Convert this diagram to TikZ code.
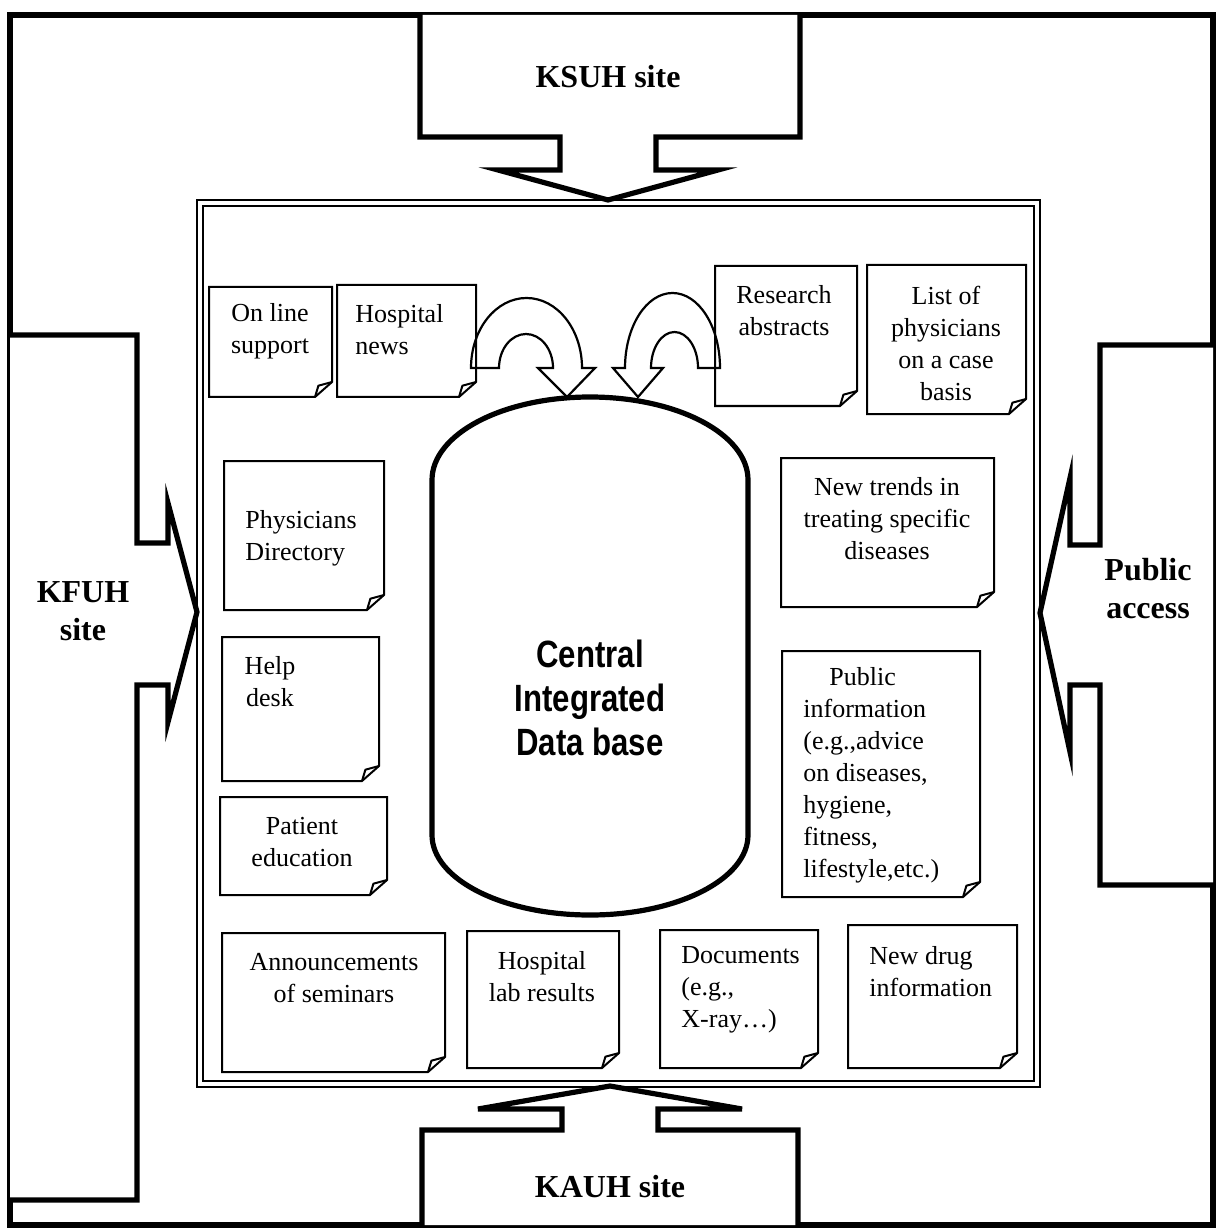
\documentclass[tikz,border=0pt]{standalone}
\usepackage{fontspec}
\setmainfont{Liberation Serif}
\newfontfamily\dbfont[FakeStretch=0.82]{Liberation Sans}

% outline of a sheet with a curled lower right corner
\newcommand\paperbox[4]{%
  \draw[sheet] (#1,#2) -- (#3,#2) -- (#3,#4-15) -- (#3-17,#4) -- (#1,#4) -- cycle;
  \draw[sheet] (#3-17,#4) -- (#3-13.6,#4-11.3) -- (#3,#4-15);
}

\begin{document}
\begin{tikzpicture}[x=0.5pt,y=-0.5pt,
  heavy/.style={line width=2.6pt, line join=miter, line cap=rect},
  panel/.style={line width=0.9pt},
  sheet/.style={line width=1pt, line join=miter},
  turn/.style={line width=1.1pt, line join=miter, fill=white},
  db/.style={line width=2.6pt},
  notetext/.style={font=\fontsize{13}{16}\selectfont, align=center, inner sep=0pt},
  sitetext/.style={font=\fontsize{16}{19}\selectfont\bfseries, align=center, inner sep=0pt},
  dbtext/.style={font=\dbfont\bfseries\fontsize{19}{22}\selectfont, align=center, inner sep=0pt}]
\useasboundingbox (0,0) rectangle (1223,1229);

% outer frame
\draw[heavy] (10,15) rectangle (1213,1225);

% double-lined panel in the middle
\draw[panel] (197,200) rectangle (1040,1087);
\draw[panel] (203,206) rectangle (1034,1081);

% callout from the top
\draw[heavy, fill=white] (420,15) -- (420,137) -- (560,137) -- (560,170) -- (498,170)
  -- (608,200) -- (718,170) -- (656,170) -- (656,137) -- (800,137) -- (800,15);
% callout from the bottom
\draw[heavy, fill=white] (422,1225) -- (422,1130) -- (562,1130) -- (562,1109) -- (478,1109)
  -- (610,1086) -- (742,1109) -- (658,1109) -- (658,1130) -- (798,1130) -- (798,1225);
% callout from the left
\draw[heavy, fill=white] (10,335) -- (137,335) -- (137,543) -- (168,543) -- (168,503)
  -- (197,612) -- (168,722) -- (168,685) -- (137,685) -- (137,1200) -- (10,1200);
% callout from the right
\draw[heavy, fill=white] (1213,345) -- (1100,345) -- (1100,545) -- (1070,545) -- (1070,478)
  -- (1040,613) -- (1070,752) -- (1070,685) -- (1100,685) -- (1100,885) -- (1213,885);

\node[sitetext] (ksuh) at (608,77) {KSUH site};
\node[sitetext] (kauh) at (610,1187) {KAUH site};
\node[sitetext] (kfuh) at (83,611) {KFUH\\site};
\node[sitetext] (pub) at (1148,589) {Public\\access};

% database cylinder: domed top, straight sides, rounded bottom
\draw[db] (432,835) -- (432,480)
  arc[start angle=180, end angle=360, x radius=158, y radius=83]
  -- (748,835)
  arc[start angle=0, end angle=180, x radius=158, y radius=80];
\node[dbtext] (dbase) at (590,698) {Central\\Integrated\\Data base};

% U-turn arrows into the database
\draw[turn] (471,368) arc[start angle=180, end angle=360, x radius=55.5, y radius=70]
  -- (595,368) -- (567,397) -- (538,368) -- (553,368)
  arc[start angle=360, end angle=180, x radius=27, y radius=34] -- cycle;
\draw[turn] (625,368) arc[start angle=180, end angle=360, x radius=47.5, y radius=75]
  -- (698,368) arc[start angle=360, end angle=180, x radius=23.5, y radius=36]
  -- (663,368) -- (638,397) -- (613,368) -- cycle;

% information sheets
\paperbox{209}{287}{332}{397}
\node[notetext] (online) at (270,331) {On line\\support};
\paperbox{337}{285}{476}{397}
\node[notetext, anchor=west, align=left] (news) at (355,330) {Hospital\\news};
\paperbox{715}{266}{857}{406}
\node[notetext] (research) at (784,311) {Research\\abstracts};
\paperbox{867}{265}{1026}{414}
\node[notetext] (physlist) at (946,343) {List of\\physicians\\on a case\\basis};
\paperbox{224}{461}{384}{610}
\node[notetext, anchor=west, align=left] (directory) at (245,538) {Physicians\\Directory};
\paperbox{781}{458}{994}{607}
\node[notetext] (trends) at (887,519) {New trends in\\treating specific\\diseases};
\paperbox{222}{637}{379}{781}
\node[notetext] (help) at (270,682) {Help\\desk};
\paperbox{782}{651}{980}{897}
\node[notetext, anchor=west, align=left] (publicinfo) at (803,775)
  {\hspace*{13pt}Public\\information\\(e.g.,advice\\on diseases,\\hygiene,\\fitness,\\lifestyle,etc.)};
\paperbox{220}{797}{387}{895}
\node[notetext] (patient) at (302,842) {Patient\\education};
\paperbox{222}{933}{445}{1072}
\node[notetext] (seminars) at (334,978) {Announcements\\of seminars};
\paperbox{467}{931}{619}{1068}
\node[notetext] (lab) at (542,977) {Hospital\\lab results};
\paperbox{660}{930}{818}{1068}
\node[notetext, anchor=west, align=left] (docs) at (681,990) {Documents\\(e.g.,\\X-ray…)};
\paperbox{848}{925}{1017}{1068}
\node[notetext, anchor=west, align=left] (drug) at (869,972) {New drug\\information};
\end{tikzpicture}
\end{document}
